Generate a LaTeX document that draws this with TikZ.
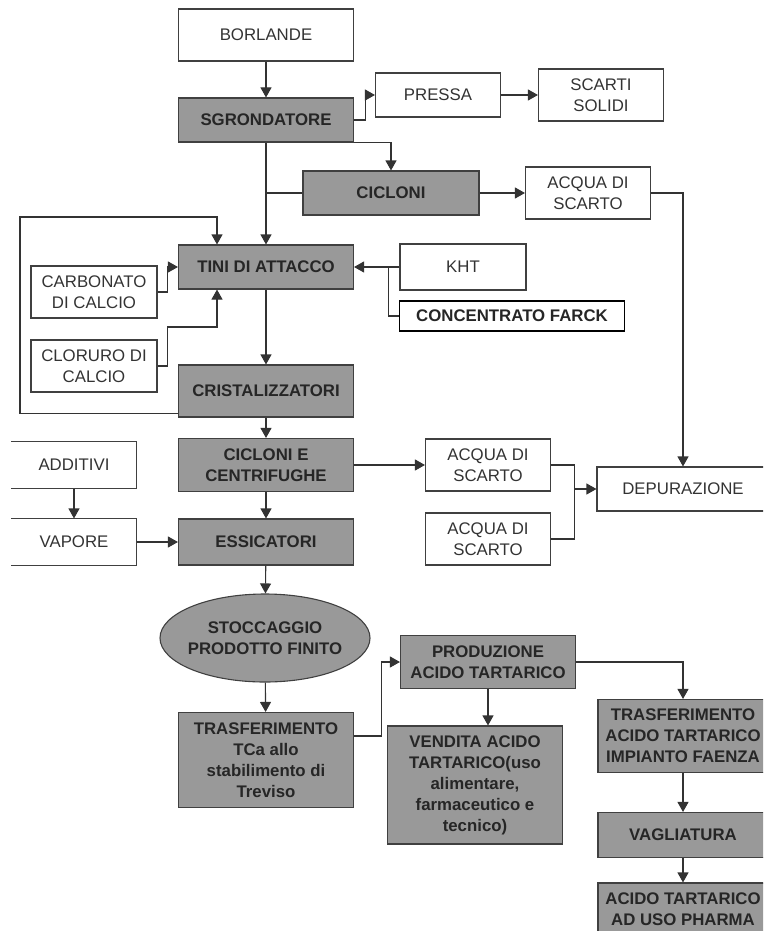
\documentclass[tikz,border=0pt]{standalone}
\usepackage{fontspec}
\setmainfont{Liberation Sans}
\usetikzlibrary{arrows.meta,shapes.geometric}
\definecolor{boxgrey}{HTML}{999999}
\definecolor{linegrey}{HTML}{404040}
\definecolor{textgrey}{HTML}{333333}
\begin{document}
\begin{tikzpicture}[x=1pt,y=-1pt,
    every node/.style={draw=linegrey,line width=1.1pt,align=center,inner sep=2pt,
        text=textgrey,font=\fontsize{16.8}{21}\selectfont},
    box/.style={minimum width=125pt,minimum height=52pt},
    grey/.style={fill=boxgrey,text=black!85,font=\fontsize{16.8}{21}\selectfont\bfseries,
        minimum width=175pt,minimum height=46pt},
    openbox/.style={draw=none,minimum width=124pt,minimum height=46pt}]
        \tikzset{edge/.style = {->,> = {Triangle[length=10pt,width=11pt]},line width=1.1pt,draw=black!80}}
        \tikzset{link/.style = {line width=1.1pt,draw=black!80}}
        \useasboundingbox (0,0) rectangle (763,931);
        \clip (0,0) rectangle (763,931);

        % main column
        \node[box,minimum width=175pt] (borlande) at (266,35) {BORLANDE};
        \node[grey,minimum height=44pt] (sgrond) at (266,120) {SGRONDATORE};
        \node[box,minimum height=44pt] (pressa) at (438,95) {PRESSA};
        \node[box] (scarti) at (601,95) {SCARTI\\SOLIDI};
        \node[grey,minimum width=176pt,minimum height=44pt] (cicloni) at (391,193) {CICLONI};
        \node[box] (acqua1) at (588,193) {ACQUA DI\\SCARTO};
        \node[grey,minimum height=44pt] (tini) at (266,267) {TINI DI ATTACCO};
        \node[box,minimum width=126pt] (carbonato) at (94,292) {CARBONATO\\DI CALCIO};
        \node[box,minimum width=126pt] (cloruro) at (94,366) {CLORURO DI\\CALCIO};
        \node[box,minimum width=126pt,minimum height=46pt] (kht) at (463,267) {KHT};
        \node[draw=black,minimum width=225pt,minimum height=30pt,text=black!85,
            font=\fontsize{16.8}{21}\selectfont\bfseries] (farck) at (512,316) {CONCENTRATO FARCK};
        \node[grey,minimum height=52pt] (crist) at (266,391) {CRISTALIZZATORI};
        \node[grey,minimum height=53pt] (cce) at (266,465) {CICLONI E\\CENTRIFUGHE};
        \node[openbox] (additivi) at (74,465) {ADDITIVI};
        \node[openbox] (vapore) at (74,542) {VAPORE};
        \node[grey] (essic) at (266,542) {ESSICATORI};
        \node[box] (acqua2) at (488,465) {ACQUA DI\\SCARTO};
        \node[box] (acqua3) at (488,539) {ACQUA DI\\SCARTO};
        \node[box,minimum width=172pt,minimum height=44pt] (depur) at (683,489) {DEPURAZIONE};
        \node[ellipse,fill=boxgrey,text=black!85,font=\fontsize{16.8}{21}\selectfont\bfseries,
            minimum width=210pt,minimum height=88pt,inner xsep=-6pt,inner ysep=0pt] (stocc) at (265,638) {STOCCAGGIO\\PRODOTTO FINITO};
        \node[grey,minimum height=95pt] (trasf) at (266,760) {TRASFERIMENTO\\TCa allo\\stabilimento di\\Treviso};
        \node[grey,minimum height=53pt] (prod) at (488,662) {PRODUZIONE\\ACIDO TARTARICO};
        \node[grey,minimum height=118pt] (vendita) at (475,785) {VENDITA ACIDO\\TARTARICO(uso\\alimentare,\\farmaceutico e\\tecnico)};
        \node[grey,minimum width=170pt,minimum height=73pt] (trasf2) at (683,736) {TRASFERIMENTO\\ACIDO TARTARICO\\IMPIANTO FAENZA};
        \node[grey,minimum width=170pt,minimum height=45pt] (vagl) at (683,835) {VAGLIATURA};
        \node[grey,minimum width=170pt,minimum height=52pt] (pharma) at (683,909) {ACIDO TARTARICO\\AD USO PHARMA};

        % open boxes on the left border
        \draw[linegrey,line width=1.1pt] (additivi.north west) -- (additivi.north east)
            -- (additivi.south east) -- (additivi.south west);
        \draw[linegrey,line width=1.1pt] (vapore.north west) -- (vapore.north east)
            -- (vapore.south east) -- (vapore.south west);

        \coordinate (loop) at (20,217);
        \coordinate (wjoin) at ([xshift=23pt]acqua2.east);

        \draw[edge] (borlande) -- (sgrond);
        \draw[edge] (sgrond.east) -- ++(11,0) |- (pressa.west);
        \draw[edge] (pressa) -- (scarti);
        \draw[edge] (sgrond.south east) -| (cicloni.north);
        \draw[edge] (sgrond) -- (tini);
        \draw[link] (cicloni.west) -- (cicloni.west -| tini.north);
        \draw[edge] (cicloni) -- (acqua1);
        \draw[edge] (acqua1.east) -| (depur.north);
        \draw[edge] ([yshift=4pt]crist.south west) -| (loop) -| ([xshift=-49pt]tini.north);
        \draw[edge] (carbonato.east) -- ++(10,0) |- (tini.west);
        \draw[edge] (cloruro.east) -- ++(10,0) -- ++(0,-39) -| ([xshift=-49pt]tini.south);
        \draw[edge] (kht) -- (tini);
        \draw[link] (farck.west) -| ([xshift=-11pt]kht.west);
        \draw[edge] (tini) -- (crist);
        \draw[edge] (crist) -- (cce);
        \draw[edge] (cce) -- (essic);
        \draw[edge] (additivi) -- (vapore);
        \draw[edge] (vapore) -- (essic);
        \draw[edge] (cce) -- (acqua2);
        \draw[link] (acqua2.east) -- (wjoin) |- (acqua3.east);
        \draw[edge] (wjoin |- depur.west) -- (depur.west);
        \draw[edge] (essic) -- (stocc);
        \draw[edge] (stocc) -- (trasf);
        \draw[edge] ([yshift=24pt]trasf.east) -- ++(27,0) |- (prod.west);
        \draw[edge] (prod.south) -- (prod.south |- vendita.north);
        \draw[edge] (prod.east) -| (trasf2.north);
        \draw[edge] (trasf2) -- (vagl);
        \draw[edge] (vagl) -- (pharma);
\end{tikzpicture}
\end{document}
